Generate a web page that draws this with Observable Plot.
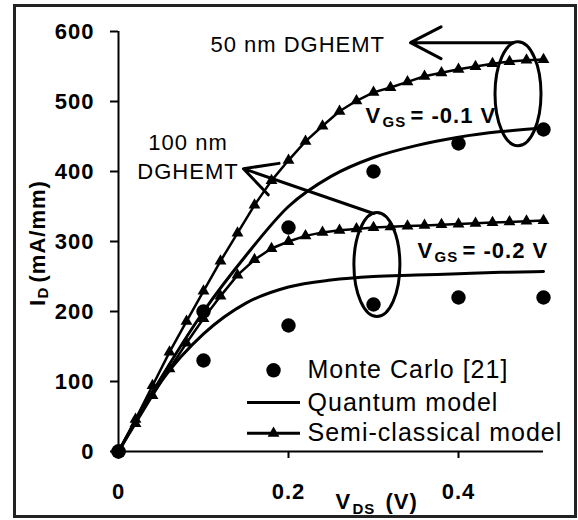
<!DOCTYPE html>
<html>
<head>
<meta charset="utf-8">
<script src="https://cdn.jsdelivr.net/npm/d3@7"></script>
<script src="https://cdn.jsdelivr.net/npm/@observablehq/plot@0.6"></script>
<style>
  html, body { margin: 0; padding: 0; background: white; }
  #wrap { position: relative; width: 578px; height: 520px; }
  #border { position: absolute; left: 13px; top: 4px; width: 564px; height: 514px; box-sizing: border-box; border: 3px solid #222; pointer-events: none; }
  #wrap svg.overlay { position: absolute; left: 0; top: 0; pointer-events: none; }
  svg text { letter-spacing: 1px; }
  g[aria-label="annot"] text { letter-spacing: 2.4px; }
  g[aria-label="legend-text"] text { letter-spacing: 1px; }
</style>
</head>
<body>
<div id="wrap"><div id="border"></div></div>
<script>
// ---- data ----
const vSemi = [0,0.02,0.04,0.06,0.08,0.10,0.12,0.14,0.16,0.18,0.20,0.22,0.24,0.26,0.28,0.30,0.32,0.34,0.36,0.38,0.40,0.42,0.44,0.46,0.48,0.50];
const semiVgs01 = [0,46,94,142,186,229,272,312,352,387,416,443,465,486,501,513,520,528,536,541,546,550,554,557,559,560];
const semiVgs02 = [0,40,80,118,155,190,222,252,274,290,300,308,313,316,318,320,321,322,323,324,325,326,327,328,329,330];

const vQuantum = [0,0.05,0.10,0.15,0.20,0.25,0.30,0.35,0.40,0.45,0.50];
const quantumVgs01 = [0,105,200,280,350,393,420,437,449,457,462];
const quantumVgs02 = [0,100,168,212,235,245,250,252,254,256,257];

const vMC = [0,0.1,0.2,0.3,0.4,0.5];
const mcVgs01 = [0,200,320,400,440,460];
const mcVgs02 = [0,130,180,210,220,220];

const xTicks = [0,0.2,0.4];
const yTicks = [0,100,200,300,400,500,600];

const legendLabels = ["Monte Carlo [21]", "Quantum model", "Semi-classical model"];

// annotation anchors (data space)
const ellipseV = [0.470, 0.304];
const ellipseI = [511, 267];
const arrowFrom = [[0.465, 584], [0.300, 340]];
const arrowTo = [[0.3435, 584], [0.147, 404]];
const vgsLabels = ["= -0.1 V", "= -0.2 V"];
const vgsV = [0.2906, 0.3518];
const vgsI = [468.6, 277];

// ---- tables ----
const semi = vSemi.flatMap((v, i) => [
  {V: v, I: semiVgs01[i], s: "-0.1"},
  {V: v, I: semiVgs02[i], s: "-0.2"}
]);
const quantum = vQuantum.flatMap((v, i) => [
  {V: v, I: quantumVgs01[i], s: "-0.1"},
  {V: v, I: quantumVgs02[i], s: "-0.2"}
]);
const mc = vMC.flatMap((v, i) => [
  {V: v, I: mcVgs01[i]},
  {V: v, I: mcVgs02[i]}
]);
const ellipses = ellipseV.map((v, i) => ({V: v, I: ellipseI[i]}));
const arrows = arrowFrom.map((f, i) => ({x1: f[0], y1: f[1], x2: arrowTo[i][0], y2: arrowTo[i][1]}));
const vgs = vgsLabels.map((t, i) => ({t, V: vgsV[i], I: vgsI[i]}));

// legend layout (data space)
const legRowI = [116, 70, 26];
const legSymV = 0.1824, legLineV1 = 0.1518, legLineV2 = 0.2141, legTextV = 0.2224;
const legend = legendLabels.map((t, i) => ({t, I: legRowI[i]}));

// custom symbols
const ellipseSymbol = {
  draw(ctx) {
    const a = 23, b = 52, k = 0.5523;
    ctx.moveTo(a, 0);
    ctx.bezierCurveTo(a, k * b, k * a, b, 0, b);
    ctx.bezierCurveTo(-k * a, b, -a, k * b, -a, 0);
    ctx.bezierCurveTo(-a, -k * b, -k * a, -b, 0, -b);
    ctx.bezierCurveTo(k * a, -b, a, -k * b, a, 0);
    ctx.closePath();
  }
};

const font = "'Liberation Sans', Arial, sans-serif";
const frame = {width: 578, height: 520, marginLeft: 118, marginRight: 35, marginTop: 31, marginBottom: 69};

const chart = Plot.plot({
  ...frame,
  style: {fontFamily: font, fontSize: "22px", fontWeight: "bold", background: "transparent", color: "black"},
  x: {domain: [0, 0.5]},
  y: {domain: [0, 600]},
  marks: [
    Plot.axisY(yTicks, {tickSize: 0, tickPadding: 24, tickFormat: d => String(d), label: null, fontSize: 22, fontWeight: "bold"}),
    Plot.axisX(xTicks, {tickSize: 0, tickPadding: 32, tickFormat: d => d === 0 ? "0" : d3.format(".1f")(d), label: null, fontSize: 22, fontWeight: "bold"}),
    Plot.ruleY([0], {stroke: "black", strokeWidth: 2}),
    Plot.ruleX([0], {stroke: "black", strokeWidth: 2}),
    Plot.line(quantum, {x: "V", y: "I", z: "s", curve: "monotone-x", stroke: "black", strokeWidth: 3}),
    Plot.line(semi, {x: "V", y: "I", z: "s", stroke: "black", strokeWidth: 2.5}),
    Plot.dot(semi, {x: "V", y: "I", symbol: "triangle", r: 4.4, fill: "black"}),
    Plot.dot(mc, {x: "V", y: "I", r: 7.2, fill: "black"}),
    Plot.dot(ellipses, {x: "V", y: "I", symbol: ellipseSymbol, fill: "none", stroke: "black", strokeWidth: 3}),
    Plot.arrow(arrows, {x1: "x1", y1: "y1", x2: "x2", y2: "y2", stroke: "black", strokeWidth: 3, headLength: 18, headAngle: 55}),
    // annotations
    Plot.text(["50 nm DGHEMT"], {x: () => 0.1082, y: () => 581, text: d => d, textAnchor: "start", lineAnchor: "middle", fontSize: 22, fontWeight: "normal", ariaLabel: "annot"}),
    Plot.text(["100 nm\nDGHEMT"], {x: () => 0.0818, y: () => 423.6, text: d => d, textAnchor: "middle", lineAnchor: "middle", lineHeight: 1.32, fontSize: 22, fontWeight: "normal", ariaLabel: "annot"}),
    Plot.text(vgs, {x: "V", y: "I", text: () => "V", textAnchor: "start", lineAnchor: "bottom", fontSize: 22, fontWeight: "bold"}),
    Plot.text(vgs, {x: "V", y: "I", text: () => "GS", textAnchor: "start", lineAnchor: "bottom", dx: 17, dy: 4, fontSize: 15, fontWeight: "bold"}),
    Plot.text(vgs, {x: "V", y: "I", text: "t", textAnchor: "start", lineAnchor: "bottom", dx: 45, fontSize: 22, fontWeight: "bold"}),
    // legend
    Plot.dot(legend.slice(0, 1), {x: () => legSymV, y: "I", r: 7.2, fill: "black"}),
    Plot.ruleY(legend.slice(1), {y: "I", x1: () => legLineV1, x2: () => legLineV2, stroke: "black", strokeWidth: 3}),
    Plot.dot(legend.slice(2), {x: () => legSymV, y: "I", symbol: "triangle", r: 4.4, fill: "black"}),
    Plot.text(legend, {x: () => legTextV, y: "I", text: "t", textAnchor: "start", lineAnchor: "middle", fontSize: 25, fontWeight: "normal", ariaLabel: "legend-text"}),
    // axis titles
    Plot.text(["I"], {frameAnchor: "left", text: d => d, rotate: -90, dx: -74, dy: 61, textAnchor: "middle", lineAnchor: "bottom", fontSize: 22, fontWeight: "bold"}),
    Plot.text(["D"], {frameAnchor: "left", text: d => d, rotate: -90, dx: -71, dy: 51, textAnchor: "middle", lineAnchor: "bottom", fontSize: 15, fontWeight: "bold"}),
    Plot.text(["(mA/mm)"], {frameAnchor: "left", text: d => d, rotate: -90, dx: -74, dy: 41, textAnchor: "start", lineAnchor: "bottom", fontSize: 22, fontWeight: "bold"}),
    Plot.text(["V"], {frameAnchor: "bottom-left", text: d => d, dx: 217, dy: 57, textAnchor: "start", lineAnchor: "bottom", fontSize: 22, fontWeight: "bold"}),
    Plot.text(["DS"], {frameAnchor: "bottom-left", text: d => d, dx: 234, dy: 62, textAnchor: "start", lineAnchor: "bottom", fontSize: 15, fontWeight: "bold"}),
    Plot.text(["(V)"], {frameAnchor: "bottom-left", text: d => d, dx: 267, dy: 57, textAnchor: "start", lineAnchor: "bottom", fontSize: 22, fontWeight: "bold"})
  ]
});

// tick marks, drawn by a second Plot layer on the same scales
const ticks = Plot.plot({
  ...frame,
  style: {background: "transparent", color: "black"},
  x: {domain: [0, 0.5], axis: null},
  y: {domain: [0, 600], axis: null},
  marks: [
    Plot.tickY(yTicks, {y: d => d, insetLeft: -8, insetRight: 425, stroke: "black", strokeWidth: 2}),
    Plot.tickX(xTicks.slice(1), {x: d => d, insetTop: 420, insetBottom: -7, stroke: "black", strokeWidth: 2})
  ]
});
ticks.classList.add("overlay");

const wrap = document.getElementById("wrap");
wrap.prepend(chart);
wrap.append(ticks);
</script>
</body>
</html>
